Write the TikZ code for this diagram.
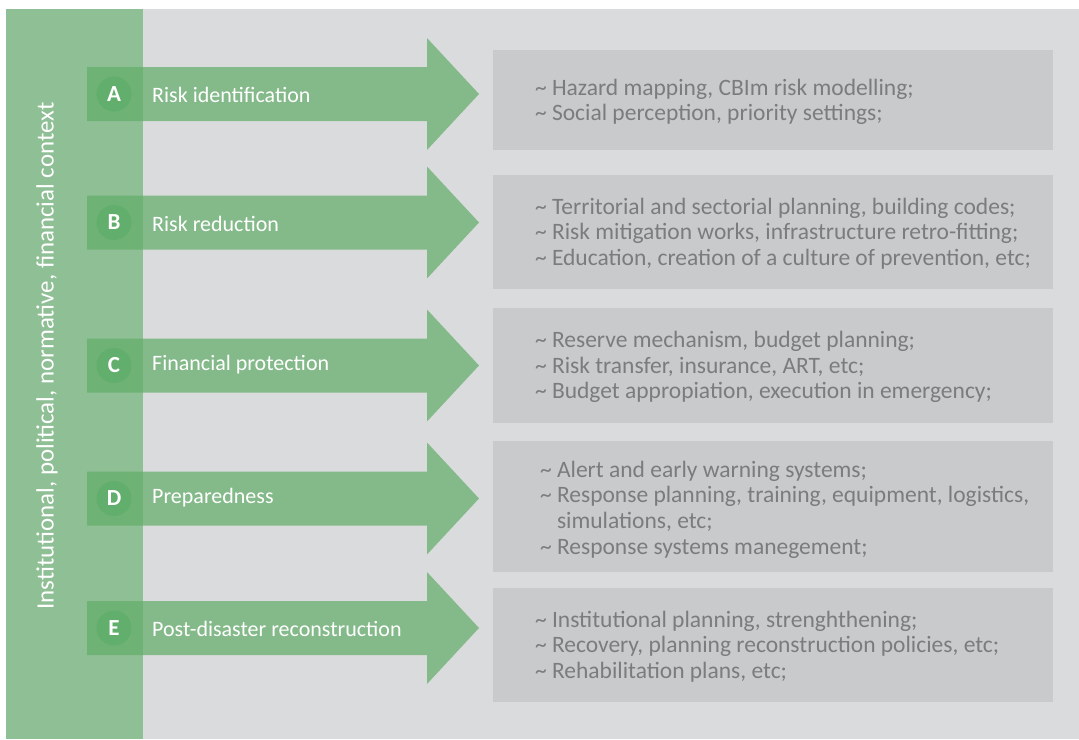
\documentclass[tikz,border=0pt]{standalone}
\usepackage{fontspec}
\setmainfont{Carlito}
\usetikzlibrary{positioning}

\definecolor{bggray}{HTML}{DADBDC}
\definecolor{boxgray}{HTML}{C9CACB}
\definecolor{bandgreen}{HTML}{8FBF95}
\definecolor{arrowgreen}{HTML}{60AD68}
\definecolor{dotgreen}{HTML}{62AE6C}
\definecolor{itemgray}{HTML}{7B7C7E}

% one wide arrow, centred at height #1
\newcommand{\phasearrow}[1]{%
  \fill[arrowgreen,fill opacity=0.7] (87,#1-27) -- (427,#1-27) -- (427,#1-56)
    -- (479,#1) -- (427,#1+56) -- (427,#1+27) -- (87,#1+27) -- cycle;}
\newcommand{\tl}{\textasciitilde\ }

\begin{document}
\begin{tikzpicture}[x=1pt,y=-1pt,
    letter/.style={circle,fill=dotgreen,minimum size=35pt,inner sep=0pt,text=white,font=\fontsize{23}{25}\selectfont\bfseries},
    phase/.style={anchor=west,inner sep=0pt,text=white,font=\fontsize{22}{26}\selectfont},
    itembox/.style={fill=boxgray,minimum width=560pt,inner sep=0pt},
    items/.style={anchor=west,inner sep=0pt,align=left,text=itemgray,font=\fontsize{23.5}{25.7}\selectfont}]
  \useasboundingbox (0,0) rectangle (1079,739);
  \fill[white] (0,0) rectangle (1079,739);
  \fill[bggray] (6,9) rectangle (1079,739);
  \fill[bandgreen] (6,9) rectangle (143,739);

  % boxes on the right
  \node[itembox,minimum height=100pt] (ba) at (773,100) {};
  \node[itembox,minimum height=114pt] (bb) at (773,232) {};
  \node[itembox,minimum height=115pt] (bc) at (773,365.5) {};
  \node[itembox,minimum height=131pt] (bd) at (773,506.5) {};
  \node[itembox,minimum height=114pt] (be) at (773,645) {};

  \phasearrow{94}
  \phasearrow{222.5}
  \phasearrow{365.5}
  \phasearrow{498.5}
  \phasearrow{628}

  \node[letter] (ca) at (114,94) {A};
  \node[letter] (cb) at (114,222.5) {B};
  \node[letter] (cc) at (114,365.5) {C};
  \node[letter] (cd) at (114,498.5) {D};
  \node[letter] (ce) at (114,628) {E};

  \node[phase] (la) at (152,95) {Risk identification};
  \node[phase] (lb) at (152,224) {Risk reduction};
  \node[phase] (lc) at (152,365) {Financial protection};
  \node[phase] (ld) at (152,498) {Preparedness};
  \node[phase] (le) at (152,629) {Post-disaster reconstruction};

  \node[items] (ta) at ([xshift=42pt,yshift=-2pt]ba.west) {\tl Hazard mapping, CBIm risk modelling;\\
    \tl Social perception, priority settings;};
  \node[items] (tb) at ([xshift=42pt,yshift=-1.5pt]bb.west) {\tl Territorial and sectorial planning, building codes;\\
    \tl Risk mitigation works, infrastructure retro-fitting;\\
    \tl Education, creation of a culture of prevention, etc;};
  \node[items] (tc) at ([xshift=42pt,yshift=-1.5pt]bc.west) {\tl Reserve mechanism, budget planning;\\
    \tl Risk transfer, insurance, ART, etc;\\
    \tl Budget appropiation, execution in emergency;};
  \node[items] (td) at ([xshift=47pt,yshift=-3pt]bd.west) {\tl Alert and early warning systems;\\
    \tl Response planning, training, equipment, logistics,\\
    \phantom{\tl}simulations, etc;\\
    \tl Response systems manegement;};
  \node[items] (te) at ([xshift=42pt,yshift=-1.5pt]be.west) {\tl Institutional planning, strenghthening;\\
    \tl Recovery, planning reconstruction policies, etc;\\
    \tl Rehabilitation plans, etc;};

  \node[rotate=90,inner sep=0pt,text=white,font=\fontsize{24.9}{28}\selectfont] (ctx) at (47,356)
    {Institutional, political, normative, financial context};
\end{tikzpicture}
\end{document}
